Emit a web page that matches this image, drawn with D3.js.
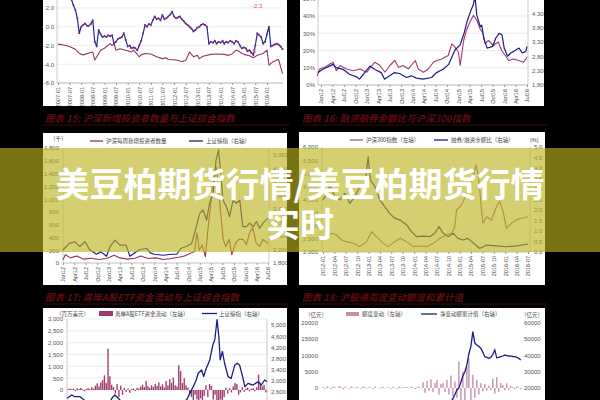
<!DOCTYPE html>
<html><head><meta charset="utf-8">
<script src="https://cdn.jsdelivr.net/npm/d3@7"></script>
<style>html,body{margin:0;padding:0;background:#000;overflow:hidden}svg{display:block}</style>
</head><body><script>
// ================= DATA =================
// Chart A (top-left)
const aTicks = ["2007-01","2007-07","2008-01","2008-07","2009-01","2009-07","2010-01","2010-07","2011-01","2011-07","2012-01","2012-07","2013-01","2013-07","2014-01","2014-07","2015-01","2015-07","2016-01"];
const aYTicks = [2,0,-2,-4,-6];
const aYLabels = ["2.0","0.0","-2.0","-4.0","-6.0"];
const aBlueFrom = "2007-08", aBlueTo = "2016-09";
const aBlue = [2.9,2.3,1.8,0.9,-0.7,
 0.0,0.2,0.35,0.1,0.1,0.3,0.7,-1.6,-2.1,-0.35,-0.8,-1.1,
 -1.0,-1.1,-0.9,-1.0,-0.9,-1.8,-1.6,-1.3,-1.2,-1.1,-0.7,-1.4,
 -2.1,-2.0,-2.3,-2.2,-2.3,-2.5,-2.0,-1.5,-0.7,0.2,0.0,0.3,
 0.2,0.7,1.1,0.8,0.9,0.7,1.25,0.8,0.9,1.1,1.3,1.6,
 1.1,0.9,1.0,1.1,0.8,0.6,0.35,0.2,0.0,-0.2,-0.5,-0.35,
 -0.1,0.0,0.2,0.3,0.2,0.0,-1.8,-1.6,-1.7,-1.5,-1.8,-1.6,
 -1.7,-1.5,-1.8,-1.6,-1.7,-1.5,-1.6,-1.8,-1.5,-1.6,-2.0,-2.3,
 -2.2,-2.3,-2.6,-2.5,-2.8,-3.0,-2.0,-0.7,-0.9,-1.1,-1.8,-1.6,
 -0.8,0.0,-2.1,-2.0,-1.9,-1.8,-1.9,-2.1,-2.4];
const aPurpleDates = ["2007-01","2007-04","2007-07","2007-10","2007-12","2008-02","2008-05","2008-07","2008-08","2008-09","2008-10","2008-11","2009-01","2009-02","2009-04","2009-05","2009-06","2009-07","2009-09","2009-12","2010-03","2010-04","2010-05","2010-07","2010-08","2010-10","2011-01","2011-04","2011-07","2011-09","2011-10","2012-02","2012-05","2012-07","2012-09","2012-11","2013-01","2013-02","2013-04","2013-08","2013-11","2014-03","2014-05","2014-07","2014-09","2014-10","2014-12","2015-02","2015-04","2015-06","2015-08","2015-11","2016-01","2016-02","2016-04","2016-06","2016-07","2016-09"];
const aPurple = [-1.85,-1.95,-2.1,-2.4,-2.85,-3.0,-2.8,-2.7,-3.55,-3.2,-2.85,-2.5,-2.3,-2.1,-1.8,-2.0,-1.85,-2.5,-2.35,-2.5,-2.7,-2.5,-2.7,-3.2,-3.0,-2.85,-2.9,-3.2,-3.4,-3.3,-3.5,-3.55,-3.7,-3.6,-2.7,-3.2,-3.05,-3.4,-3.15,-2.95,-2.9,-2.95,-3.05,-2.9,-2.5,-2.55,-2.85,-3.0,-3.1,-3.3,-3.05,-2.85,-2.5,-4.1,-3.75,-3.55,-3.5,-5.0];
const aNotes = [{t:"-2.3", d:"2015-08", v:2.0}, {t:"-5", d:"2015-06", v:-2.85}];

// Chart B (top-right)
const qTicks = ["Jan12","Apr12","Jul12","Oct12","Jan13","Apr13","Jul13","Oct13","Jan14","Apr14","Jul14","Oct14","Jan15","Apr15","Jul15","Oct15","Jan16","Apr16","Jul16"];
const bLeftTicks = [0,10,20,30,40,50];
const bLeftLabels = ["0%","10%","20%","30%","40%","50%"];
const bRightTicks = [1800,2300,2800,3300,3800,4300];
const bRightLabels = ["1,800","2,300","2,800","3,300","3,800","4,300"];
const bIdxDates = ["2011-12-08","2012-01-15","2012-04-07","2012-05-01","2012-06-25","2012-08-15","2012-10-10","2012-11-03","2012-12-15","2013-01-25","2013-03-03","2013-04-25","2013-05-22","2013-07-01","2013-08-10","2013-09-18","2013-11-12","2013-12-22","2014-02-01","2014-03-25","2014-06-01","2014-07-10","2014-09-01","2014-10-15","2014-11-12","2014-12-06","2015-01-15","2015-02-15","2015-03-10","2015-04-06","2015-05-01","2015-05-13","2015-05-28","2015-06-25","2015-07-06","2015-07-22","2015-08-18","2015-10-01","2015-10-25","2015-11-22","2015-12-15","2016-01-01","2016-01-28","2016-02-22","2016-03-18","2016-04-28","2016-05-25","2016-06-22","2016-07-01"];
const bIdx = [2233,2347,2518,2404,2347,2176,2085,2005,2233,2461,2347,2233,2005,2120,2233,2200,2062,2120,2040,2005,2062,2233,2347,2518,2803,3031,3202,3601,4000,4342,4627,4900,4228,3829,3886,3430,3088,3145,3430,3601,3544,3088,2803,2917,2974,3088,2917,2974,3145];
const bPctDates = ["2011-12-01","2011-12-22","2012-01-31","2012-03-12","2012-04-06","2012-05-03","2012-06-01","2012-07-22","2012-09-15","2012-11-06","2013-01-01","2013-02-10","2013-03-06","2013-04-15","2013-05-25","2013-07-03","2013-08-12","2013-09-10","2013-10-18","2013-11-28","2014-01-22","2014-02-15","2014-03-28","2014-05-06","2014-06-15","2014-07-12","2014-08-22","2014-09-15","2014-10-12","2014-11-10","2014-12-06","2015-01-01","2015-01-15","2015-02-12","2015-03-06","2015-04-03","2015-05-01","2015-05-28","2015-06-22","2015-07-18","2015-08-01","2015-08-28","2015-10-06","2015-11-15","2015-12-12","2016-01-10","2016-02-06","2016-03-15","2016-04-25","2016-06-03","2016-07-01"];
const bPct = [5.4,9.3,10.3,12.2,13.2,8.3,11.3,9.3,8.3,9.3,7.4,11.3,13.2,11.3,7.4,11.3,14.2,10.3,11.3,9.3,14.2,9.3,7.4,9.3,13.2,14.2,15.1,16.1,17.1,23.9,21.9,19.0,11.3,25.8,31.7,36.5,40.4,37.5,32.6,29.7,23.9,25.8,22.9,24.9,20.0,17.1,14.2,15.1,14.2,13.2,16.1];

// Chart C (图表15)
const cLeftTicks = [0,200,400,600,800,1000,1200,1400,1600,1800];
const cLeftLabels = ["0","200","400","600","800","1,000","1,200","1,400","1,600","1,800"];
const cRightTicks = [1800,2200,2600,3000,3400,3800,4200,4600,5000];
const cRightLabels = ["1,800","2,200","2,600","3,000","3,400","3,800","4,200","4,600","5,000"];
const cIdxDates = ["2012-01-01","2012-02-20","2012-04-05","2012-05-15","2012-06-25","2012-08-01","2012-09-25","2012-11-01","2012-12-15","2013-01-12","2013-02-20","2013-04-01","2013-05-20","2013-06-20","2013-08-10","2013-09-10","2013-11-01","2013-12-01","2014-01-01","2014-03-15","2014-05-15","2014-07-01","2014-08-01","2014-09-15","2014-10-28","2014-11-20","2015-01-01","2015-01-28","2015-02-25","2015-03-20","2015-04-18","2015-05-12","2015-06-01","2015-06-25","2015-07-06","2015-08-03","2015-08-28","2015-09-25","2015-10-20","2015-11-18","2015-12-12","2016-01-10","2016-02-05","2016-03-03","2016-03-31","2016-04-25","2016-05-22","2016-07-01"];
const cIdx = [2185,2383,2430,2285,2430,2200,2060,2130,2000,2285,2480,2330,2330,2000,2130,2200,2230,2100,2060,2030,2060,2060,2230,2290,2380,2680,3270,3370,3070,3570,3860,4850,5150,4160,3660,3470,3170,3660,3570,3660,2880,2880,2980,2880,3030,2830,2980,3130];
const cInvDates = ["2012-01-01","2012-01-20","2012-03-01","2012-04-20","2012-06-15","2012-08-15","2012-10-15","2012-12-15","2013-02-15","2013-04-01","2013-06-01","2013-08-01","2013-09-15","2013-11-15","2014-01-15","2014-03-15","2014-05-15","2014-07-15","2014-09-01","2014-10-15","2014-11-20","2014-12-10","2014-12-28","2015-01-20","2015-02-15","2015-03-10","2015-03-25","2015-04-15","2015-05-05","2015-05-15","2015-06-05","2015-06-20","2015-07-08","2015-07-28","2015-08-25","2015-09-15","2015-10-15","2015-11-10","2015-12-15","2016-01-10","2016-02-05","2016-03-01","2016-03-28","2016-04-25","2016-05-22","2016-07-01"];
const cInv = [50,130,80,110,60,75,55,70,120,80,60,75,110,70,80,55,70,90,110,150,180,470,200,285,100,570,830,1250,1400,1500,1050,730,370,260,370,130,310,370,370,290,470,550,310,260,370,310];

// Chart D (图表16)
const dTicks = ["2012-01","2012-04","2012-07","2012-10","2013-01","2013-04","2013-07","2013-10","2014-01","2014-04","2014-07","2014-10","2015-01","2015-04","2015-07","2015-10","2016-01","2016-04","2016-07"];
const dLeftTicks = [2000,2500,3000,3500,4000,4500,5000,5500,6000];
const dLeftLabels = ["2,000","2,500","3,000","3,500","4,000","4,500","5,000","5,500","6,000"];
const dRightTicks = [0,0.5,1,1.5,2,2.5,3,3.5,4,4.5,5];
const dRightLabels = ["0.0","0.5","1.0","1.5","2.0","2.5","3.0","3.5","4.0","4.5","5.0"];
const dRatioDates = ["2012-01-01","2012-02-01","2012-02-26","2012-04-05","2012-05-15","2012-06-25","2012-08-03","2012-09-12","2012-10-22","2012-12-02","2012-12-28","2013-01-15","2013-02-20","2013-04-01","2013-05-10","2013-06-18","2013-07-28","2013-09-10","2013-11-01","2013-12-10","2014-01-20","2014-03-12","2014-05-06","2014-06-15","2014-07-18","2014-08-22","2014-10-01","2014-11-10","2014-12-18","2015-01-28","2015-03-06","2015-04-18","2015-06-10","2015-08-03","2015-10-22","2016-01-10","2016-04-01","2016-07-01"];
const dRatio = [2.48,2.79,3.19,2.63,2.48,2.79,2.32,2.63,3.11,3.19,4.54,3.43,3.11,2.48,2.16,1.84,1.61,1.52,1.29,0.97,0.73,0.76,0.73,0.89,1.21,0.89,0.73,0.89,0.65,0.57,0.65,0.44,0.17,0.33,0.29,0.25,0.29,0.38];
const dHsDates = ["2012-01-01","2012-02-01","2012-03-10","2012-04-18","2012-05-28","2012-07-06","2012-09-01","2012-10-22","2012-12-15","2013-01-25","2013-03-03","2013-04-28","2013-06-06","2013-07-28","2013-09-10","2013-11-01","2013-12-25","2014-02-15","2014-04-10","2014-06-04","2014-07-25","2014-09-18","2014-10-28","2014-11-22","2014-12-06","2015-01-03","2015-01-28","2015-02-25","2015-03-22","2015-04-18","2015-05-13","2015-06-03","2015-06-22","2015-07-06","2015-08-03","2015-09-12","2015-10-22","2015-11-18","2015-12-15","2016-01-10","2016-02-18","2016-03-28","2016-05-10","2016-07-01"];
const dHs = [2457,2584,2711,2648,2457,2394,2330,2203,2394,2775,2584,2330,2203,2394,2521,2394,2203,2229,2203,2330,2521,2648,2711,2965,3600,3727,3917,4235,4489,4870,5314,4743,3727,3092,3346,3219,3727,3917,3536,2902,3092,3219,3283,3346];

// Chart E (图表17)
const eLeftTicks = [0,500,1000,1500,2000,2500,3000];
const eLeftLabels = ["0","500","1,000","1,500","2,000","2,500","3,000"];
const eRightTicks = [2600,3000,3400,3800,4200,4600,5000];
const eRightLabels = ["2,600","3,000","3,400","3,800","4,200","4,600","5,000"];
const eFlows = [40,60,30,50,-40,70,40,90,30,-60,50,80,40,120,60,180,280,150,320,420,620,300,1750,580,220,120,-150,250,-300,180,-200,90,-80,60,-120,40,70,-50,90,60,140,220,120,380,160,90,200,130,260,170,320,150,240,110,380,200,460,300,520,200,150,1050,800,300,500,200,100,-150,-300,-500,-200,-400,-600,-350,-500,-250,200,-300,250,180,-400,-200,-600,-700,-400,-550,-300,100,-150,80,-100,150,300,250,-200,-100,120,-80,60,100,-60,50,80,-50,120,650,300,150,220,-100];
const eIdxDates = ["2012-01-01","2012-02-10","2012-03-05","2012-04-20","2012-05-15","2012-06-28","2012-10-05","2012-11-28","2013-01-10","2013-02-05","2013-03-05","2013-04-15","2013-07-05","2013-12-20","2014-06-05","2014-07-15","2014-09-28","2014-10-25","2014-11-22","2014-12-18","2015-01-03","2015-02-01","2015-02-18","2015-03-12","2015-04-10","2015-05-06","2015-05-22","2015-06-10","2015-06-25","2015-07-06","2015-07-25","2015-08-12","2015-09-10","2015-10-06","2015-11-06","2015-11-25","2015-12-15","2016-01-10","2016-01-28","2016-02-25","2016-04-06","2016-05-18","2016-06-15","2016-07-12","2016-08-01"];
const eIdx = [2374,2492,2432,2432,2338,2200,2050,2000,2374,2492,2374,2200,2050,2100,2050,2230,2310,2550,2790,3030,3270,3390,3150,3450,3750,4290,4470,5190,4590,3750,4050,3630,3150,3090,3570,3630,3570,3150,2790,2910,2850,2970,2850,3030,2970];

// Chart F (图表18)
const fLeftTicks = [0,5000,10000,15000,20000];
const fLeftLabels = ["0","5000","10000","15000","20000"];
const fRightTicks = [20000,30000,40000,50000,60000];
const fRightLabels = ["20000","30000","40000","50000","60000"];
const fChanges = [300,-200,500,150,-300,400,200,-100,600,250,-400,300,100,-200,450,200,-150,350,100,-250,500,200,-100,300,150,-300,400,100,-200,250,300,-100,200,150,-250,350,100,-200,450,200,-150,300,250,-100,400,150,-300,200,350,-150,
 1800,-1500,2200,-800,2600,-1200,1500,2400,-2000,1200,
 1500,-1200,2500,-2000,3800,-2500,2000,-3000,8000,-4000,
 5000,-5000,6500,9000,-6000,4000,-3000,2500,-2000,1500,
 -1000,1200,-800,700,-600,2800,-1800,3300,-1200,1500,
 900,-700,1400,-500,600,300,-400,500,200,-300];
const fCumFrom = 60;
const fCum = [4000,5500,7000,9000,11000,13500,16000,18800,20000,23500,27500,30000,34100,41000,45300,54500,47500,46300,45500,44300,42000,39200,38800,38200,38700,40500,43300,38500,38700,39200,39600,40200,39900,39600,39500,39300,39200,38800,38200,37100];

// Titles / legends / banner
const titles = ["图表 15:  沪深新增投资者数量与上证综合指数","图表 16:  融资融券余额比与沪深300指数","图表 17:  离岸A股ETF资金流动与上证综合指数","图表 18:  沪股通周度变动额度和累计值"];
const bannerLines = ["美豆柏期货行情/美豆柏期货行情","实时"];

// ================= DRAW =================
const pm = d3.timeParse("%Y-%m"), pd = d3.timeParse("%Y-%m-%d"), pq = d3.timeParse("%b%y");
const NUM = "'Liberation Sans', Arial, sans-serif";
const CJK = "'Noto Sans CJK SC', 'Noto Sans', sans-serif";
const NAVY = "#1b1b86", MAUVE = "#9a2f62";

const svg = d3.select("body").append("svg").attr("width",600).attr("height",400);
const defs = svg.append("defs");
svg.append("rect").attr("width",600).attr("height",400).attr("fill","#000");

let clipN = 0;
function box(x0,y0,x1,y1){
  svg.append("rect").attr("x",x0).attr("y",y0).attr("width",x1-x0).attr("height",y1-y0).attr("fill","#fff");
  const id = "c"+(clipN++);
  defs.append("clipPath").attr("id",id).append("rect").attr("x",x0).attr("y",y0).attr("width",x1-x0).attr("height",y1-y0);
  return svg.append("g").attr("clip-path",`url(#${id})`);
}
function yAxis(g, scale, x, vals, labels, side){
  const ax = (side==="left"? d3.axisLeft(scale): d3.axisRight(scale)).tickValues(vals).tickFormat((d,i)=>labels[i]).tickSize(0).tickPadding(3);
  const a = g.append("g").attr("transform",`translate(${x},0)`).call(ax);
  a.select(".domain").remove();
  a.selectAll("text").attr("font-family",NUM).attr("font-size",6).attr("fill","#555");
}
function xAxis(g, scale, y, dates, labels, x0, x1){
  const ax = d3.axisBottom(scale).tickValues(dates).tickFormat((d,i)=>labels[i]).tickSize(2).tickSizeOuter(0);
  const a = g.append("g").attr("transform",`translate(0,${y})`).call(ax);
  a.select(".domain").remove();
  a.selectAll(".tick line").attr("stroke","#999");
  a.selectAll("text").attr("font-family",NUM).attr("font-size",5.5).attr("fill","#444")
    .attr("transform","rotate(-90)").attr("text-anchor","end").attr("x",-4).attr("y",0).attr("dy","0.35em");
  g.append("line").attr("x1",x0).attr("x2",x1).attr("y1",y).attr("y2",y).attr("stroke","#999").attr("stroke-width",0.6);
}
function vline(g,x,y0,y1){ g.append("line").attr("x1",x).attr("x2",x).attr("y1",y0).attr("y2",y1).attr("stroke","#aaa").attr("stroke-width",0.6); }
function grid(g, scale, vals, x0, x1){
  g.selectAll(null).data(vals).join("line").attr("x1",x0).attr("x2",x1).attr("y1",d=>scale(d)).attr("y2",d=>scale(d)).attr("stroke","#e2e2e2").attr("stroke-width",0.6);
}
function path(g, xs, ys, dates, vals, color, w){
  const pts = dates.map((d,i)=>[xs(d), ys(vals[i])]);
  g.append("path").attr("d", d3.line()(pts)).attr("fill","none").attr("stroke",color).attr("stroke-width",w).attr("stroke-linejoin","round");
}
function legendLine(x0,x1,y,color,w){ svg.append("line").attr("x1",x0).attr("x2",x1).attr("y1",y).attr("y2",y).attr("stroke",color).attr("stroke-width",w); }
function txt(x,y,s,size,color,anchor,fam){ return svg.append("text").attr("x",x).attr("y",y).text(s).attr("font-size",size).attr("fill",color).attr("text-anchor",anchor||"start").attr("font-family",fam||CJK).attr("dominant-baseline","central"); }
function title(x,y,s,x1){
  svg.append("text").attr("x",x).attr("y",y).text(s).attr("font-family",CJK).attr("font-size",9.5).attr("font-weight",700).attr("font-style","italic").attr("fill","#5c0c12").attr("dominant-baseline","central");
  svg.append("line").attr("x1",x-2).attr("x2",x1).attr("y1",y+7).attr("y2",y+7).attr("stroke","#4e0a0e").attr("stroke-width",0.8);
}

// ---- Chart A ----
{
  const g = box(43,0,287,106);
  const x = d3.scaleTime().domain([pm("2007-01"), pm("2016-01")]).range([58,267]);
  const y = d3.scaleLinear().domain([-6,2]).range([83,8]);
  grid(g, y, aYTicks, 57, 283);
  vline(g,57,0,83);
  yAxis(g, y, 57, aYTicks, aYLabels, "left");
  xAxis(g, x, 83, aTicks.map(pm), aTicks, 57, 283);
  const blueDates = d3.timeMonth.range(pm(aBlueFrom), d3.timeMonth.offset(pm(aBlueTo),1));
  path(g, x, y, aPurpleDates.map(pm), aPurple, "#8e3566", 1.1);
  path(g, x, y, blueDates, aBlue, "#1c2a9a", 1.2);
  g.selectAll(null).data(blueDates).join("circle").attr("cx",d=>x(d)).attr("cy",(d,i)=>y(aBlue[i])).attr("r",1).attr("fill","#7a2a70");
  aNotes.forEach(n=>{ g.append("text").attr("x",x(pm(n.d))).attr("y",y(n.v)).text(n.t).attr("font-family",NUM).attr("font-size",6).attr("fill","#e0505a").attr("text-anchor","middle"); });
}

// ---- Chart B ----
{
  const g = box(300,0,544,106);
  const x = d3.scaleTime().domain([pq("Jan12"), pq("Jul16")]).range([321,527]);
  const yl = d3.scaleLinear().domain([0,50]).range([85,-1.25]);
  const yr = d3.scaleLinear().domain([1800,4800]).range([85,-1]);
  grid(g, yl, bLeftTicks, 318, 528);
  vline(g,318,0,85); vline(g,528,0,85);
  yAxis(g, yl, 318, bLeftTicks, bLeftLabels, "left");
  yAxis(g, yr, 529, bRightTicks, bRightLabels, "right");
  xAxis(g, x, 85, qTicks.map(pq), qTicks, 318, 528);
  path(g, x, yl, bPctDates.map(pd), bPct, "#a33a70", 1.1);
  path(g, x, yr, bIdxDates.map(pd), bIdx, NAVY, 1.2);
}

// ---- Chart C ----
{
  const g = box(43,133,287,285);
  const x = d3.scaleTime().domain([pq("Jan12"), pq("Jul16")]).range([63,268]);
  const yl = d3.scaleLinear().domain([0,1800]).range([263,148]);
  const yr = d3.scaleLinear().domain([1800,5000]).range([263,155]);
  vline(g,63,148,263); vline(g,269,148,263);
  yAxis(g, yl, 62, cLeftTicks, cLeftLabels, "left");
  yAxis(g, yr, 270, cRightTicks, cRightLabels, "right");
  xAxis(g, x, 263, qTicks.map(pq), qTicks, 63, 269);
  path(g, x, yl, cInvDates.map(pd), cInv, MAUVE, 1.1);
  path(g, x, yr, cIdxDates.map(pd), cIdx, NAVY, 1.2);
}
txt(50,139,"（千）",5.5,"#444");
legendLine(90,103,141,MAUVE,1.3); txt(106,141,"沪深每周新增投资者数量",5.5,"#444");
legendLine(189,203,141,NAVY,1.3); txt(206,141,"上证综指（右轴）",5.5,"#444");

// ---- Chart D ----
{
  const g = box(299,132,545,285);
  const x = d3.scaleTime().domain([pm("2012-01"), pm("2016-07")]).range([323,528]);
  const yl = d3.scaleLinear().domain([2000,6000]).range([252,147]);
  const yr = d3.scaleLinear().domain([0,5]).range([252,147]);
  vline(g,322,147,252); vline(g,530,147,252);
  yAxis(g, yl, 321, dLeftTicks, dLeftLabels, "left");
  yAxis(g, yr, 531, dRightTicks, dRightLabels, "right");
  xAxis(g, x, 252, dTicks.map(pm), dTicks, 322, 530);
  path(g, x, yr, dRatioDates.map(pd), dRatio, NAVY, 1.2);
  path(g, x, yl, dHsDates.map(pd), dHs, "#a9507e", 1.1);
}
legendLine(350,363,140,"#a9507e",1.3); txt(366,140,"沪深300指数（左轴）",5.5,"#444");
legendLine(434,448,140,NAVY,1.3); txt(451,140,"融券/融资余额比（右轴）",5.5,"#444");
txt(530,140,"(%)",5.5,"#444","start",NUM);

// ---- Chart E ----
{
  const g = box(43,308,287,400);
  const xb = d3.scaleBand().domain(d3.range(eFlows.length)).range([67,267]).padding(0.25);
  const x = d3.scaleTime().domain([pm("2012-01"), pm("2016-08")]).range([67,267]);
  const yl = d3.scaleLinear().domain([0,3000]).range([390,319]);
  const yr = d3.scaleLinear().domain([2600,5000]).range([392,325]);
  grid(g, yl, eLeftTicks, 67, 267);
  vline(g,67,319,400); vline(g,267,319,400);
  yAxis(g, yl, 66, eLeftTicks, eLeftLabels, "left");
  yAxis(g, yr, 268, eRightTicks, eRightLabels, "right");
  g.selectAll(null).data(eFlows).join("rect").attr("x",(d,i)=>xb(i)).attr("width",xb.bandwidth())
    .attr("y",d=>Math.min(yl(d),yl(0))).attr("height",d=>Math.abs(yl(d)-yl(0))).attr("fill","#9e3a6c");
  path(g, x, yr, eIdxDates.map(pd), eIdx, NAVY, 1.3);
}
txt(56,314,"（百万美元）",5.5,"#444");
svg.append("rect").attr("x",99).attr("y",311).attr("width",14).attr("height",5).attr("fill","#9e3a6c");
txt(115,313.5,"离岸A股ETF资金流动（左轴）",5.5,"#444");
legendLine(202,217,313.5,NAVY,1.3); txt(219,313.5,"上证综指（右轴）",5.5,"#444");

// ---- Chart F ----
{
  const g = box(299,308,545,400);
  const xb = d3.scaleBand().domain(d3.range(fChanges.length)).range([322,522]).padding(0.3);
  const yl = d3.scaleLinear().domain([0,20000]).range([388,322.7]);
  const yr = d3.scaleLinear().domain([20000,60000]).range([388,322.7]);
  yAxis(g, yl, 321, fLeftTicks, fLeftLabels, "left");
  yAxis(g, yr, 521, fRightTicks, fRightLabels, "right");
  g.selectAll(null).data(fChanges).join("rect").attr("x",(d,i)=>xb(i)).attr("width",xb.bandwidth())
    .attr("y",d=>Math.min(yl(d),yl(0))).attr("height",d=>Math.abs(yl(d)-yl(0))).attr("fill","#c78fae");
  const pts = fCum.map((v,i)=>[xb(i+fCumFrom)+xb.bandwidth()/2, yr(v)]);
  g.append("path").attr("d",d3.line()(pts)).attr("fill","none").attr("stroke",NAVY).attr("stroke-width",1.3);
}
txt(305,314.5,"（亿元）",5.5,"#444");
svg.append("rect").attr("x",346).attr("y",312).attr("width",13).attr("height",4).attr("fill","#c78fae");
txt(362,314,"额度变动（左轴）",5.5,"#444");
legendLine(421,437,314,NAVY,1.3); txt(440,314,"净变动额累计值（右轴）",5.5,"#444");
txt(521,314.5,"（亿元）",5.5,"#444");

// ---- Titles ----
title(45,118,titles[0],290);
title(302,118,titles[1],547);
title(45,297,titles[2],290);
title(302,297,titles[3],547);

// ---- Banner ----
svg.append("rect").attr("x",0).attr("y",148).attr("width",600).attr("height",104).attr("fill","rgb(187,180,31)").attr("fill-opacity",0.64);
bannerLines.forEach((s,i)=>{
  svg.append("text").attr("x",300).attr("y",182+i*40).text(s).attr("text-anchor","middle").attr("dominant-baseline","central")
    .attr("font-family",CJK).attr("font-weight",700).attr("font-size",34).attr("fill","#fff");
});
</script></body></html>
